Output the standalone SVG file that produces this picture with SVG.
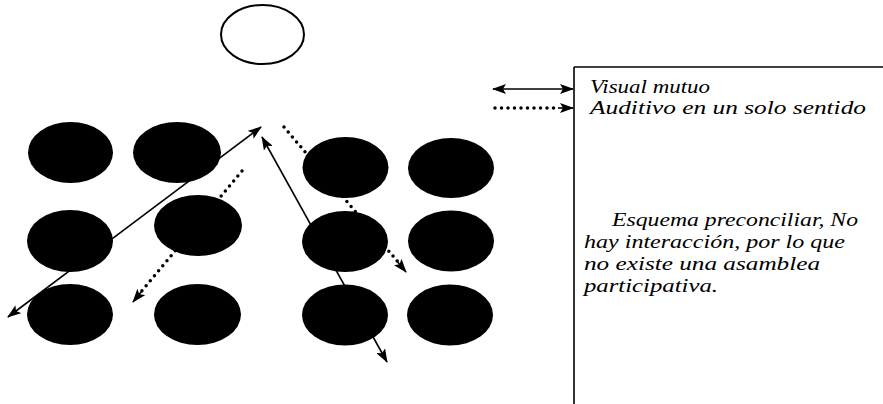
<svg xmlns="http://www.w3.org/2000/svg" width="883" height="404" viewBox="0 0 883 404">
<defs>
<marker id="ah" viewBox="0 0 14 10" refX="13" refY="5" markerWidth="14" markerHeight="10" markerUnits="userSpaceOnUse" orient="auto-start-reverse">
<path d="M0,0 L14,5 L0,10 L3,5 Z" fill="#000"/>
</marker>
</defs>
<style>
.solid{stroke:#000;stroke-width:1.6;fill:none}
.dot{stroke:#000;stroke-width:3.5;stroke-linecap:round;stroke-dasharray:0 6.5;fill:none}
.person{fill:#000}
.lbl{font-family:"Liberation Serif","DejaVu Serif",serif;font-style:italic;font-size:19px;fill:#000}
</style>
<rect width="883" height="404" fill="#fff"/>
<g id="connectors">
<line class="solid" x1="8" y1="317" x2="261" y2="127" marker-start="url(#ah)" marker-end="url(#ah)"/>
<line class="solid" x1="262" y1="137" x2="387" y2="362" marker-start="url(#ah)" marker-end="url(#ah)"/>
<line class="dot" x1="284" y1="127" x2="398" y2="262"/>
<line class="solid" x1="396" y1="260" x2="406" y2="272" marker-end="url(#ah)"/>
<line class="dot" x1="242" y1="171" x2="140" y2="293"/>
<line class="solid" x1="142" y1="291" x2="133" y2="302" marker-end="url(#ah)"/>
</g>
<g id="speaker"><ellipse cx="262.5" cy="34.5" rx="41.5" ry="29.5" fill="none" stroke="#000" stroke-width="2"/></g>
<g id="p11"><ellipse class="person" cx="70.5" cy="152.5" rx="42.5" ry="30.5"/></g>
<g id="p12"><ellipse class="person" cx="177" cy="152.5" rx="44" ry="30.5"/></g>
<g id="p21"><ellipse class="person" cx="70" cy="241" rx="43" ry="31"/></g>
<g id="p22"><ellipse class="person" cx="198" cy="225.5" rx="44" ry="30.5"/></g>
<g id="p31"><ellipse class="person" cx="70" cy="314.5" rx="43" ry="30.5"/></g>
<g id="p32"><ellipse class="person" cx="197.5" cy="314.5" rx="43.5" ry="30.5"/></g>
<g id="p13"><ellipse class="person" cx="345.5" cy="167.5" rx="43" ry="30.5"/></g>
<g id="p23"><ellipse class="person" cx="345" cy="241.5" rx="43" ry="30.5"/></g>
<g id="p33"><ellipse class="person" cx="345" cy="315" rx="43" ry="30.5"/></g>
<g id="p14"><ellipse class="person" cx="451" cy="168" rx="43" ry="30"/></g>
<g id="p24"><ellipse class="person" cx="451" cy="241" rx="43" ry="30.5"/></g>
<g id="p34"><ellipse class="person" cx="450" cy="315" rx="43" ry="30.5"/></g>
<g id="legend">
<line class="solid" x1="574" y1="67" x2="574" y2="404"/>
<line class="solid" x1="574" y1="67" x2="883" y2="67"/>
<line class="solid" x1="493" y1="89" x2="573" y2="89" marker-start="url(#ah)" marker-end="url(#ah)"/>
<line class="dot" x1="495" y1="108" x2="560" y2="108"/>
<line class="solid" x1="558" y1="108" x2="573" y2="108" marker-end="url(#ah)"/>
<text class="lbl" x="590" y="93" textLength="120" lengthAdjust="spacingAndGlyphs">Visual mutuo</text>
<text class="lbl" x="590" y="114" textLength="276" lengthAdjust="spacingAndGlyphs">Auditivo en un solo sentido</text>
</g>
<g id="note">
<text class="lbl" x="612" y="226" textLength="246" lengthAdjust="spacingAndGlyphs">Esquema preconciliar, No</text>
<text class="lbl" x="584" y="248" textLength="261" lengthAdjust="spacingAndGlyphs">hay interacción, por lo que</text>
<text class="lbl" x="584" y="270" textLength="236" lengthAdjust="spacingAndGlyphs">no existe una asamblea</text>
<text class="lbl" x="584" y="292" textLength="134" lengthAdjust="spacingAndGlyphs">participativa.</text>
</g>
</svg>
